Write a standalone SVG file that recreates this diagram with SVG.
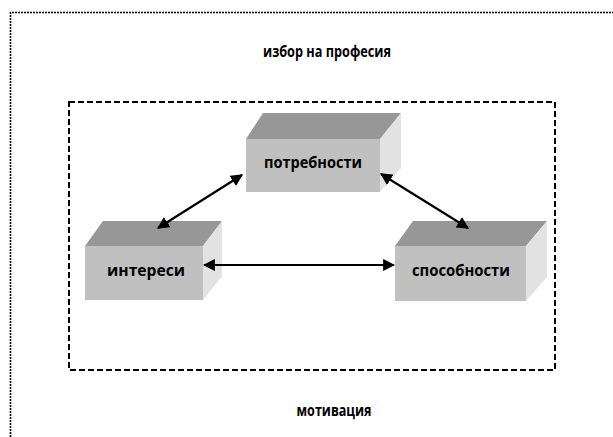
<svg xmlns="http://www.w3.org/2000/svg" width="613" height="437" viewBox="0 0 613 437">
<style>
.lbl{font-family:"Open Sans","Noto Sans","Liberation Sans",sans-serif;font-weight:bold;font-size:16px;fill:#000;text-anchor:middle}
.front{fill:#c0c0c0}
.top{fill:#979797}
.side{fill:#e2e2e2}
.conn{stroke:#000;stroke-width:2.2;fill:none;marker-start:url(#ah);marker-end:url(#ah)}
</style>
<defs>
<marker id="ah" viewBox="0 0 10 10" refX="9" refY="5" markerWidth="5.5" markerHeight="5.5" orient="auto-start-reverse" markerUnits="strokeWidth">
<path d="M0,0 L10,5 L0,10 Z" fill="#000"/>
</marker>
</defs>
<rect width="613" height="437" fill="#fff"/>
<g id="outer">
<path d="M10.5,437 L10.5,12.5 L613,12.5" fill="none" stroke="#000" stroke-width="1.6" stroke-dasharray="2,1"/>
</g>
<g id="frame">
<rect x="69" y="102" width="486" height="268" fill="none" stroke="#000" stroke-width="2" stroke-dasharray="6,3"/>
</g>
<text id="title" class="lbl" x="327" y="57" textLength="128" lengthAdjust="spacingAndGlyphs">избор на професия</text>
<text id="bottom" class="lbl" x="334" y="416" textLength="75" lengthAdjust="spacingAndGlyphs">мотивация</text>
<g id="node-potrebnosti">
<polygon class="top" points="246,139 263,113 401,113 380,139"/>
<polygon class="side" points="380,139 401,113 401,168 380,192"/>
<rect class="front" x="246" y="139" width="134" height="53"/>
<text class="lbl" x="313" y="168" textLength="98" lengthAdjust="spacingAndGlyphs">потребности</text>
</g>
<g id="node-interesi">
<polygon class="top" points="85,246 103,221 222,221 203,246"/>
<polygon class="side" points="203,246 222,221 222,276 203,300"/>
<rect class="front" x="85" y="246" width="118" height="54"/>
<text class="lbl" x="146" y="276" textLength="78" lengthAdjust="spacingAndGlyphs">интереси</text>
</g>
<g id="node-sposobnosti">
<polygon class="top" points="395,246 413,221 547,221 526,246"/>
<polygon class="side" points="526,246 547,221 547,277 526,301"/>
<rect class="front" x="395" y="246" width="131" height="55"/>
<text class="lbl" x="461" y="276" textLength="98" lengthAdjust="spacingAndGlyphs">способности</text>
</g>
<g id="connectors">
<line class="conn" x1="242" y1="175" x2="158" y2="228"/>
<line class="conn" x1="381" y1="174" x2="468" y2="228"/>
<line class="conn" x1="204" y1="265" x2="394" y2="265"/>
</g>
</svg>
